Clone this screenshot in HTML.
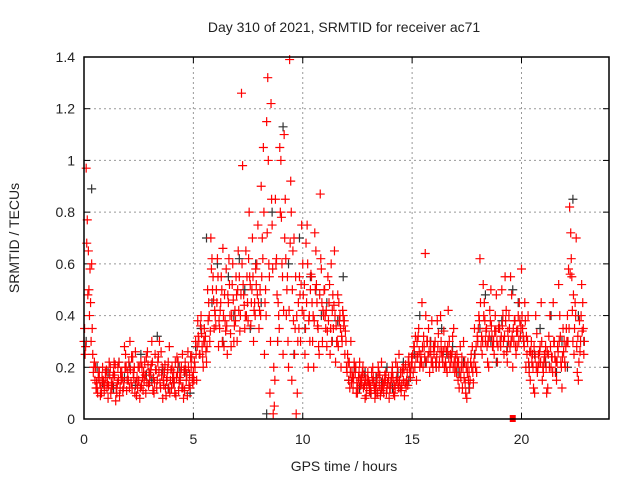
<!DOCTYPE html>
<html><head><meta charset="utf-8"><style>
html,body{margin:0;padding:0;background:#fff;}
svg text{font-family:"Liberation Sans",sans-serif;fill:#222;}
</style></head><body>
<svg id="chart" width="640" height="480" xmlns="http://www.w3.org/2000/svg">
<text x="344" y="32" font-size="14" text-anchor="middle">Day 310 of 2021, SRMTID for receiver ac71</text>
<text transform="translate(19,238) rotate(-90)" font-size="14" text-anchor="middle">SRMTID / TECUs</text>
<text x="344" y="471" font-size="14" text-anchor="middle">GPS time / hours</text>
<g id="grid"></g><g id="ticks"></g><g id="marks"></g>
<rect x="84" y="57" width="525" height="362" fill="none" stroke="#000" stroke-width="1.5"/>
</svg>
<script>
const yTicks=[0,0.2,0.4,0.6,0.8,1,1.2,1.4];
const yTickLabels=["0","0.2","0.4","0.6","0.8","1","1.2","1.4"];
const xTicks=[0,5,10,15,20];
const xTickLabels=["0","5","10","15","20"];
const redA=[0.30,0.97,0.65,0.45,0.25,0.15,0.12,0.18,0.10,0.14,
0.16,0.08,0.20,0.13,0.17,0.10,0.22,0.15,0.12,0.25,
0.18,0.30,0.12,0.20,0.09,0.15,0.22,0.11,0.17,0.26,
0.14,0.30,0.10,0.19,0.24,0.12,0.08,0.21,0.16,0.28,
0.12,0.18,0.09,0.22,0.15,0.25,0.11,0.17,0.13,0.20,
0.18,0.30,0.38,0.25,0.28,0.35,0.22,0.45,0.70,0.55,
0.40,0.62,0.35,0.50,0.28,0.58,0.45,0.33,0.60,0.42,
0.30,0.55,1.26,0.48,0.65,0.38,0.52,0.70,0.45,0.60,
0.35,0.90,1.05,0.50,1.32,0.10,0.75,0.05,0.62,0.40,
1.00,0.25,0.85,0.55,1.39,0.15,0.70,0.02,0.45,0.30,
0.60,0.25,0.75,0.40,0.55,0.20,0.65,0.35,0.87,0.30,
0.50,0.28,0.45,0.60,0.35,0.22,0.48,0.40,0.30,0.38,
0.20,0.15,0.30,0.12,0.18,0.10,0.22,0.14,0.17,0.09,
0.15,0.12,0.20,0.08,0.16,0.13,0.22,0.10,0.18,0.14,
0.12,0.20,0.09,0.16,0.25,0.11,0.15,0.21,0.13,0.18,
0.22,0.28,0.15,0.35,0.25,0.20,0.64,0.30,0.18,0.38,
0.25,0.20,0.33,0.40,0.22,0.28,0.18,0.30,0.24,0.35,
0.20,0.15,0.28,0.12,0.22,0.08,0.18,0.25,0.14,0.20,
0.30,0.62,0.25,0.45,0.35,0.20,0.50,0.28,0.40,0.22,
0.35,0.50,0.25,0.42,0.30,0.55,0.20,0.38,0.28,0.45,
0.58,0.30,0.20,0.40,0.15,0.25,0.10,0.33,0.22,0.45,
0.18,0.28,0.12,0.40,0.24,0.30,0.15,0.52,0.22,0.35,
0.20,0.40,0.82,0.55,0.25,0.70,0.15,0.30,0.45];
const redB=[0.25,0.77,0.40,0.60,0.20,0.12,0.16,0.09,0.20,0.13,
0.12,0.22,0.14,0.18,0.07,0.20,0.12,0.16,0.28,0.11,
0.22,0.14,0.18,0.26,0.12,0.08,0.20,0.15,0.24,0.13,
0.19,0.11,0.25,0.15,0.30,0.17,0.13,0.09,0.22,0.15,
0.16,0.10,0.24,0.14,0.20,0.08,0.19,0.26,0.12,0.16,
0.22,0.15,0.30,0.40,0.20,0.32,0.50,0.30,0.62,0.35,
0.50,0.28,0.45,0.66,0.38,0.25,0.52,0.40,0.30,0.55,
0.65,0.40,0.98,0.35,0.55,0.80,0.45,0.30,0.58,0.75,
0.50,0.70,0.25,1.15,0.60,1.22,0.02,0.85,0.30,1.05,
0.60,1.10,0.40,0.20,0.92,0.65,0.35,0.10,0.55,0.75,
0.40,0.68,0.20,0.50,0.30,0.72,0.45,0.25,0.58,0.40,
0.35,0.55,0.25,0.42,0.65,0.30,0.45,0.20,0.40,0.34,
0.25,0.12,0.18,0.22,0.10,0.16,0.13,0.20,0.08,0.15,
0.11,0.18,0.14,0.10,0.20,0.09,0.15,0.17,0.12,0.08,
0.16,0.10,0.22,0.14,0.12,0.18,0.09,0.15,0.24,0.20,
0.18,0.32,0.24,0.20,0.45,0.28,0.22,0.35,0.26,0.20,
0.30,0.38,0.22,0.26,0.34,0.20,0.42,0.25,0.32,0.18,
0.25,0.12,0.20,0.30,0.10,0.22,0.15,0.28,0.35,0.18,
0.40,0.28,0.52,0.30,0.22,0.42,0.32,0.25,0.48,0.35,
0.28,0.40,0.55,0.22,0.35,0.48,0.30,0.25,0.40,0.32,
0.35,0.45,0.25,0.18,0.30,0.12,0.40,0.20,0.28,0.15,
0.25,0.10,0.32,0.20,0.45,0.18,0.28,0.40,0.12,0.30,
0.35,0.58,0.72,0.30,0.45,0.18,0.38,0.52,0.25];
const redC=[0.35,0.68,0.50,0.30,0.18,0.20,0.10,0.14,0.16,0.11,
0.19,0.13,0.10,0.16,0.21,0.14,0.09,0.18,0.14,0.20,
0.15,0.19,0.24,0.10,0.16,0.20,0.13,0.18,0.10,0.21,
0.17,0.22,0.14,0.12,0.18,0.26,0.15,0.12,0.19,0.10,
0.20,0.14,0.16,0.11,0.18,0.12,0.22,0.09,0.17,0.24,
0.15,0.25,0.32,0.36,0.24,0.30,0.28,0.40,0.58,0.46,
0.36,0.55,0.42,0.30,0.48,0.36,0.62,0.28,0.46,0.38,
0.50,0.34,0.60,0.44,0.40,0.62,0.36,0.55,0.40,0.48,
0.42,0.55,0.80,0.40,1.00,0.30,0.58,0.15,0.48,0.35,
0.78,0.42,0.62,0.30,0.68,0.50,0.25,0.40,0.35,0.52,
0.48,0.35,0.60,0.30,0.45,0.38,0.52,0.28,0.62,0.42,
0.40,0.34,0.52,0.30,0.44,0.36,0.28,0.35,0.42,0.25,
0.18,0.22,0.14,0.16,0.20,0.12,0.15,0.18,0.13,0.12,
0.14,0.10,0.16,0.12,0.10,0.17,0.12,0.14,0.10,0.16,
0.14,0.16,0.12,0.20,0.15,0.13,0.19,0.12,0.22,0.16,
0.25,0.20,0.30,0.26,0.22,0.32,0.40,0.24,0.30,0.22,
0.28,0.24,0.20,0.30,0.26,0.22,0.28,0.20,0.26,0.22,
0.18,0.22,0.16,0.20,0.14,0.18,0.12,0.20,0.22,0.28,
0.35,0.45,0.30,0.38,0.28,0.32,0.36,0.30,0.34,0.28,
0.30,0.36,0.32,0.26,0.40,0.30,0.35,0.28,0.34,0.38,
0.40,0.28,0.32,0.22,0.26,0.20,0.24,0.18,0.26,0.30,
0.22,0.20,0.25,0.28,0.18,0.24,0.22,0.30,0.20,0.26,
0.28,0.30,0.56,0.42,0.35,0.28,0.22,0.40,0.35];
const redD=[0.28,0.48,0.58,0.35,0.22,0.14,0.18,0.12,0.15,0.18,
0.14,0.17,0.12,0.22,0.12,0.15,0.18,0.11,0.20,0.15,
0.12,0.24,0.16,0.14,0.20,0.12,0.16,0.22,0.14,0.18,
0.21,0.16,0.19,0.22,0.14,0.20,0.18,0.15,0.12,0.19,
0.14,0.22,0.18,0.16,0.12,0.19,0.15,0.20,0.24,0.14,
0.20,0.28,0.25,0.33,0.30,0.26,0.38,0.34,0.50,0.42,
0.45,0.38,0.55,0.40,0.34,0.48,0.40,0.52,0.36,0.48,
0.42,0.48,0.52,0.40,0.45,0.55,0.50,0.42,0.52,0.45,
0.40,0.62,0.45,0.72,0.55,0.85,0.20,0.60,0.45,0.80,
0.55,0.70,0.50,0.42,0.80,0.38,0.55,0.30,0.48,0.42,
0.52,0.45,0.38,0.56,0.40,0.50,0.36,0.48,0.45,0.50,
0.42,0.38,0.35,0.48,0.40,0.30,0.38,0.32,0.36,0.30,
0.22,0.18,0.16,0.20,0.14,0.18,0.16,0.12,0.15,0.18,
0.13,0.15,0.12,0.14,0.18,0.11,0.13,0.15,0.14,0.12,
0.18,0.13,0.15,0.12,0.18,0.20,0.14,0.18,0.20,0.24,
0.28,0.24,0.32,0.22,0.28,0.24,0.30,0.26,0.22,0.28,
0.22,0.28,0.26,0.24,0.20,0.26,0.24,0.22,0.20,0.24,
0.22,0.18,0.24,0.16,0.20,0.15,0.22,0.18,0.25,0.32,
0.38,0.32,0.40,0.34,0.30,0.38,0.28,0.34,0.30,0.36,
0.32,0.30,0.38,0.34,0.28,0.32,0.38,0.34,0.30,0.36,
0.32,0.38,0.30,0.26,0.22,0.28,0.20,0.25,0.22,0.20,
0.24,0.26,0.20,0.24,0.30,0.22,0.26,0.32,0.24,0.22,
0.30,0.35,0.62,0.48,0.40,0.32,0.26,0.34,0.30];
const grey=[0.30,0.89,0.20,0.14,0.18,0.12,0.22,0.16,0.20,0.13,0.25,0.17,0.15,0.32,0.19,0.12,
0.14,0.20,0.18,0.10,0.28,0.35,0.70,0.45,0.60,0.30,0.55,0.40,0.62,0.50,0.35,0.60,
0.45,0.02,0.80,0.30,1.13,0.60,0.25,0.70,0.35,0.55,0.50,0.40,0.45,0.30,0.38,0.55,
0.15,0.20,0.12,0.18,0.10,0.16,0.14,0.20,0.12,0.18,0.22,0.15,0.25,0.40,0.22,0.30,
0.20,0.35,0.25,0.28,0.18,0.22,0.12,0.25,0.35,0.48,0.30,0.22,0.38,0.28,0.50,0.45,
0.30,0.20,0.25,0.35,0.22,0.40,0.18,0.30,0.20,0.85,0.40,0.30];
const flagTime=[19.6];
const flagValue=[0];
const L=84,R=609,T=57,B=419;
const xs=v=>L+(v/24)*(R-L);
const ys=v=>B-(v/1.4)*(B-T);
const NS="http://www.w3.org/2000/svg";
function mk(tag,attrs,parent){const e=document.createElementNS(NS,tag);for(const k in attrs)e.setAttribute(k,attrs[k]);parent.appendChild(e);return e;}
const grid=document.getElementById('grid'),ticks=document.getElementById('ticks'),marks=document.getElementById('marks');
yTicks.forEach((v,i)=>{
  const y=ys(v);
  if(i>0&&i<yTicks.length-1){const g=mk('line',{x1:L,x2:R,y1:y,y2:y,stroke:'#999','stroke-dasharray':'2,3','stroke-width':1},grid);
  
  }
  mk('line',{x1:L,x2:L+6,y1:y,y2:y,stroke:'#000'},ticks);
  mk('line',{x1:R,x2:R-6,y1:y,y2:y,stroke:'#000'},ticks);
  const t=mk('text',{x:L-9,y:y+5,'font-size':14,'text-anchor':'end'},ticks);
  t.textContent=yTickLabels[i];
  
  
});
xTicks.forEach((v,i)=>{
  const x=xs(v);
  if(i>0){const g=mk('line',{x1:x,x2:x,y1:T,y2:B,stroke:'#999','stroke-dasharray':'2,3','stroke-width':1},grid);
  
  }
  mk('line',{x1:x,x2:x,y1:B,y2:B-6,stroke:'#000'},ticks);
  mk('line',{x1:x,x2:x,y1:T,y2:T+6,stroke:'#000'},ticks);
  const t=mk('text',{x:x,y:B+25,'font-size':14,'text-anchor':'middle'},ticks);
  t.textContent=xTickLabels[i];
  
  
});
function cross(t,v,color,name){
  const x=xs(t),y=ys(v);
  const p=mk('path',{d:`M${x-4.5} ${y}H${x+4.5}M${x} ${y-4.5}V${y+4.5}`,stroke:color,'stroke-width':1.2,fill:'none'},marks);
  
  
}
grey.forEach((v,i)=>cross(i*0.25+0.1,v,'#333','grey-point'));
redA.forEach((v,i)=>cross(i*0.1,v,'#f00','red-point'));
redC.forEach((v,i)=>cross(i*0.1+0.025,v,'#f00','red-point'));
redB.forEach((v,i)=>cross(i*0.1+0.05,v,'#f00','red-point'));
redD.forEach((v,i)=>cross(i*0.1+0.075,v,'#f00','red-point'));
flagTime.forEach((t,i)=>{
  const r=mk('rect',{x:xs(t)-3,y:ys(flagValue[i])-4,width:6,height:7,fill:'#f00'},marks);
  
  
});
</script>
</body></html>
